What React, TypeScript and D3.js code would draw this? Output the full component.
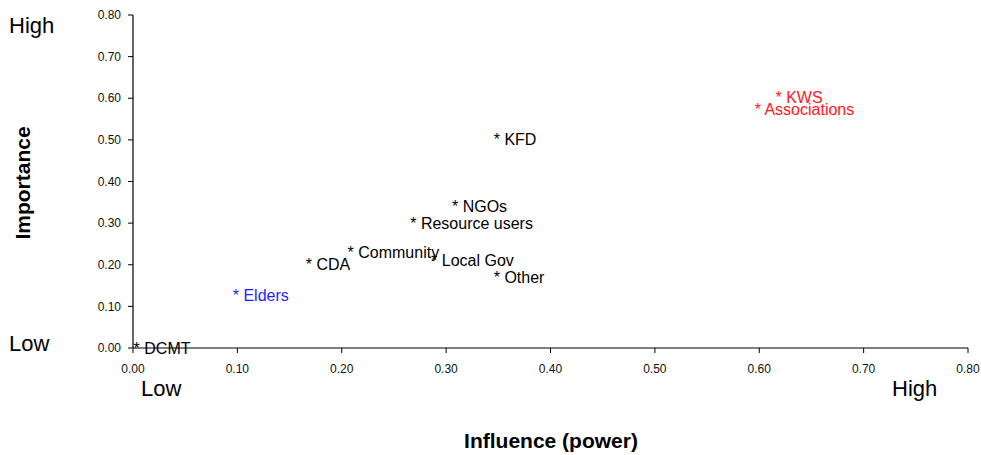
import React from "react";
import * as d3 from "d3";

const names = ["DCMT", "Elders", "CDA", "Community", "Local Gov", "Resource users", "NGOs", "Other", "KFD", "Associations", "KWS"];
const influence = [0.005, 0.10, 0.17, 0.21, 0.29, 0.27, 0.31, 0.35, 0.35, 0.60, 0.62];
const importance = [0.0, 0.125, 0.20, 0.23, 0.21, 0.30, 0.34, 0.17, 0.50, 0.574, 0.603];
const colors = ["#000", "#1f1fff", "#000", "#000", "#000", "#000", "#000", "#000", "#000", "#ff1a1a", "#ff1a1a"];
const xTicks = [0, 0.1, 0.2, 0.3, 0.4, 0.5, 0.6, 0.7, 0.8];
const yTicks = [0, 0.1, 0.2, 0.3, 0.4, 0.5, 0.6, 0.7, 0.8];

const W = 981;
const H = 455;
const FONT = "'Liberation Sans', Arial, sans-serif";

export default function App() {
  const x = d3.scaleLinear().domain([0, 0.8]).range([133, 968]);
  const y = d3.scaleLinear().domain([0, 0.8]).range([348, 15]);
  const fmt = d3.format(".2f");
  return (
    <div style={{ position: "fixed", left: 0, top: 0 }}>
      <svg width={W} height={H} style={{ display: "block", fontFamily: FONT }}>
        <rect width={W} height={H} fill="#fff" />
        {/* axes */}
        <line x1={x(0)} x2={x(0)} y1={y(0.8)} y2={y(0)} stroke="#000" strokeWidth={1.2} />
        <line x1={x(0)} x2={x(0.8)} y1={y(0)} y2={y(0)} stroke="#000" strokeWidth={1.2} />
        {yTicks.map((t) => (
          <g key={"y" + t}>
            <line x1={x(0) - 5} x2={x(0)} y1={y(t)} y2={y(t)} stroke="#000" />
            <text x={121} y={y(t) + 4.2} fontSize={12} textAnchor="end" fill="#111">{fmt(t)}</text>
          </g>
        ))}
        {xTicks.map((t) => (
          <g key={"x" + t}>
            <line x1={x(t)} x2={x(t)} y1={y(0)} y2={y(0) + 5} stroke="#000" />
            <text x={x(t)} y={373} fontSize={12} textAnchor="middle" fill="#111">{fmt(t)}</text>
          </g>
        ))}
        {/* points as labels */}
        {names.map((n, i) => (
          <text key={n} x={x(influence[i]) - 4.6} y={y(importance[i]) + 5.5} fontSize={16} fill={colors[i]}>
            {"* " + n}
          </text>
        ))}
        {/* Low / High */}
        <text x={9} y={33} fontSize={22} fill="#000">High</text>
        <text x={9} y={351} fontSize={22} fill="#000">Low</text>
        <text x={141} y={395.5} fontSize={22} fill="#000">Low</text>
        <text x={892} y={395.5} fontSize={22} fill="#000">High</text>
        {/* axis titles */}
        <text x={551} y={448} fontSize={21} fontWeight="bold" textAnchor="middle">Influence (power)</text>
        <text transform="translate(29.5,183) rotate(-90)" fontSize={21} fontWeight="bold" textAnchor="middle">Importance</text>
      </svg>
    </div>
  );
}
